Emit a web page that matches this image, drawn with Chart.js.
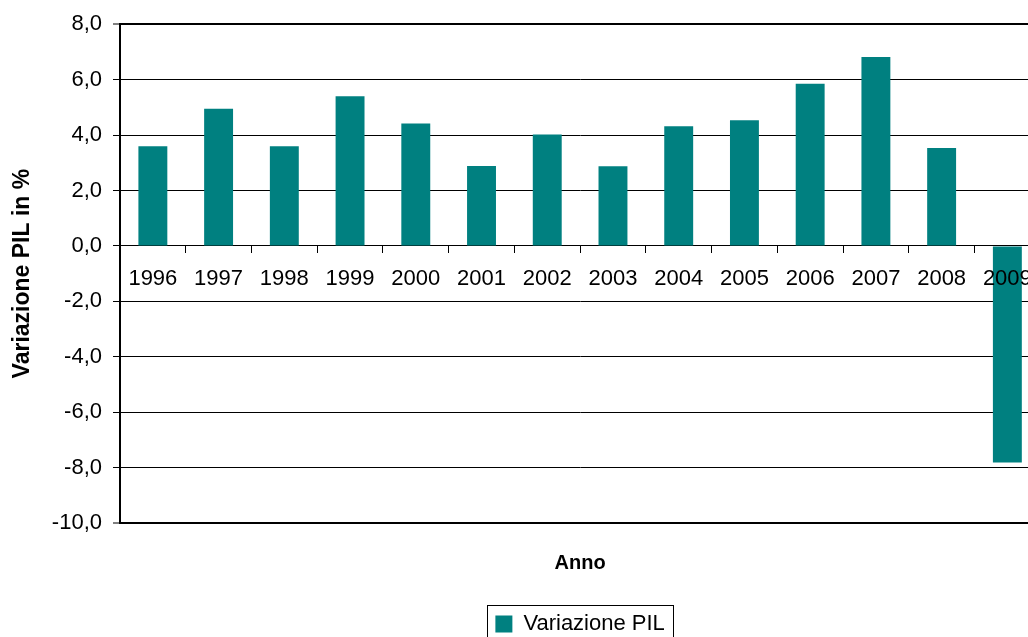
<!DOCTYPE html>
<html><head><meta charset="utf-8">
<script src="https://cdn.jsdelivr.net/npm/chart.js@4"></script>
<style>
html,body{margin:0;padding:0;overflow:hidden;background:#fff}
#wrap{width:1045px;height:660px;position:relative}
</style>
</head><body><div id="wrap"><canvas id="c"></canvas></div>
<script>
const years = ['1996','1997','1998','1999','2000','2001','2002','2003','2004','2005','2006','2007','2008','2009'];
const pilValues = [3.6, 4.95, 3.6, 5.4, 4.42, 2.88, 4.02, 2.87, 4.32, 4.53, 5.85, 6.82, 3.53, -7.82];
const yMin = -10, yMax = 8, yStep = 2;
const seriesName = 'Variazione PIL';
const xTitle = 'Anno';
const yTitle = 'Variazione PIL in %';

Chart.defaults.font.family = '"Liberation Sans", Arial, sans-serif';
Chart.defaults.color = '#000';

const legendBorder = {
  id: 'legendBorder',
  afterDraw(chart) {
    const lg = chart.legend;
    if (!lg || !lg.legendHitBoxes || !lg.legendHitBoxes.length) return;
    const hb = lg.legendHitBoxes[0];
    const ctx = chart.ctx;
    ctx.save();
    ctx.strokeStyle = '#000';
    ctx.lineWidth = 1;
    ctx.strokeRect(Math.round(hb.left - 8) + 0.5, Math.round(hb.top - 8) + 0.5, Math.round(hb.width + 17), 100);
    ctx.restore();
  }
};

new Chart(document.getElementById('c'), {
  type: 'bar',
  data: {
    labels: years,
    datasets: [{
      label: seriesName,
      data: pilValues,
      backgroundColor: '#008080',
      borderWidth: 0,
      barPercentage: 0.44,
      categoryPercentage: 1
    }]
  },
  options: {
    responsive: true,
    maintainAspectRatio: false,
    animation: false,
    devicePixelRatio: 1,
    layout: { padding: { top: 24, right: 2, left: 0, bottom: 15 } },
    scales: {
      x: {
        position: { y: 0 },
        offset: true,
        ticks: { z: 1, color: '#000', font: { size: 22 }, padding: 13, maxRotation: 0, autoSkip: false },
        grid: { display: true, drawOnChartArea: false, drawTicks: true, tickLength: 7, color: '#000', offset: true },
        border: { display: true, color: '#000', width: 1 }
      },
      y: {
        min: yMin, max: yMax,
        afterFit: s => { s.width = 120; },
        ticks: { stepSize: yStep, padding: 11, color: '#000', font: { size: 22 },
                 callback: v => Number(v).toFixed(1).replace('.', ',') },
        grid: {
          color: '#000',
          lineWidth: ctx => (ctx.tick && (ctx.tick.value === yMax || ctx.tick.value === yMin)) ? 2 : 1,
          tickLength: 7, tickWidth: 1, tickColor: '#000', drawTicks: true
        },
        border: { display: true, color: '#000', width: 2 },
        title: { display: true, text: yTitle, color: '#000', font: { size: 23, weight: 'bold' }, padding: { top: 9, bottom: 0 } }
      }
    },
    plugins: {
      tooltip: { enabled: false },
      legend: {
        display: true, position: 'bottom', fullSize: false,
        labels: { boxWidth: 17, boxHeight: 17, color: '#000', font: { size: 22 }, padding: 10 }
      },
      title: {
        display: true, text: xTitle, position: 'bottom', fullSize: false, weight: 500,
        color: '#000', font: { size: 20, weight: 'bold' }, padding: { top: 28, bottom: 28 }
      }
    }
  },
  plugins: [legendBorder]
});
</script>
</body></html>
